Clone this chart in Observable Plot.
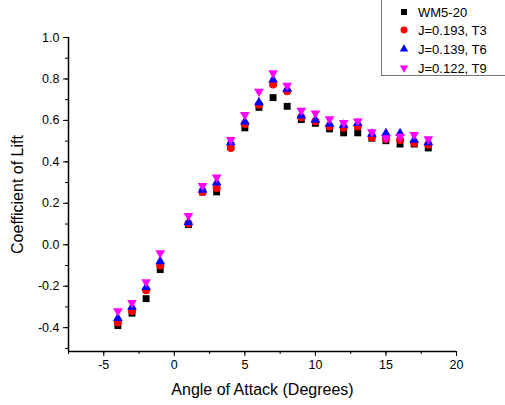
<!DOCTYPE html>
<html><head><meta charset="utf-8">
<script src="https://cdn.jsdelivr.net/npm/d3@7"></script>
<script src="https://cdn.jsdelivr.net/npm/@observablehq/plot@0.6"></script>
<style>
body{margin:0;background:#fff;font-family:"Liberation Sans",Arial,sans-serif;}
#wrap{position:relative;width:505px;height:405px;overflow:hidden;}
#legend{position:absolute;left:381px;top:-1px;width:140px;height:77px;border:1px solid #777;box-sizing:border-box;background:#fff;}
.row{position:absolute;left:0;height:18px;display:flex;align-items:center;font-size:13px;color:#000;}
.row svg{margin-left:16px;margin-right:8px;}
</style></head>
<body><div id="wrap"><div id="legend"></div></div>
<script>
const angles = [-4,-3,-2,-1,1,2,3,4,5,6,7,8,9,10,11,12,13,14,15,16,17,18];
const wm520 = [-0.39,-0.33,-0.26,-0.12,0.097,0.255,0.255,0.48,0.564,0.663,0.71,0.668,0.604,0.586,0.559,0.54,0.54,0.514,0.502,0.486,0.486,0.467];
const t3 = [-0.375,-0.32,-0.22,-0.10,0.103,0.255,0.274,0.467,0.583,0.675,0.773,0.741,0.615,0.596,0.570,0.564,0.570,0.518,0.510,0.506,0.491,0.482];
const t6 = [-0.354,-0.30,-0.205,-0.08,0.108,0.265,0.30,0.494,0.594,0.687,0.796,0.752,0.623,0.602,0.583,0.578,0.586,0.535,0.538,0.538,0.506,0.494];
const t9 = [-0.32,-0.28,-0.18,-0.04,0.14,0.285,0.325,0.506,0.627,0.739,0.828,0.768,0.647,0.634,0.607,0.588,0.596,0.544,0.515,0.522,0.531,0.51];
const seriesNames = ["WM5-20","J=0.193, T3","J=0.139, T6","J=0.122, T9"];
const seriesColors = ["#000000","#ff0000","#0000ff","#ff00ff"];
const xTicks = [-5,0,5,10,15,20];
const yTicks = [-0.4,-0.2,0.0,0.2,0.4,0.6,0.8,1.0];

const triangleDown = {
  draw(context, size) {
    const y = -Math.sqrt(size / (Math.sqrt(3) * 3));
    context.moveTo(0, -2 * y);
    context.lineTo(Math.sqrt(3) * y, y);
    context.lineTo(-Math.sqrt(3) * y, y);
    context.closePath();
  }
};
const symbols = ["square","circle","triangle",triangleDown];
const radii = [3.9,4,3.6,3.6];
const allSeries = [wm520,t3,t6,t9];

const xMin = -7.5, xMax = 20, yMin = -0.515, yMax = 1.0;
const xMinor = d3.range(-7.5, 20.01, 2.5);
const yMinor = d3.range(-5, 10.01, 1).map(d => d/10);

const marks = [];
allSeries.forEach((vals, i) => {
  marks.push(Plot.dot(angles.map((a, j) => ({x: a, y: vals[j]})), {
    x: "x", y: "y", symbol: () => symbols[i], r: radii[i], fill: seriesColors[i], stroke: "none"
  }));
});

const plot = Plot.plot({
  width: 505, height: 405,
  marginLeft: 68, marginRight: 49, marginTop: 37, marginBottom: 54,
  style: {fontFamily: '"Liberation Sans", Arial, sans-serif', fontSize: "12px", color: "#000", background: "#fff"},
  x: {domain: [xMin, xMax]},
  y: {domain: [yMin, yMax]},
  symbol: {type: "identity"},
  marks: [
    Plot.axisX({ticks: xMinor, tickSize: 3, tickFormat: () => "", label: null, strokeWidth: 1}),
    Plot.axisX({ticks: xTicks, tickSize: 5, tickPadding: 4, tickFormat: d => String(d), label: "Angle of Attack (Degrees)", labelAnchor: "center", labelArrow: "none", labelOffset: 43, fontSize: 12.5, strokeWidth: 1}),
    Plot.axisY({ticks: yMinor, tickSize: 3, tickFormat: () => "", label: null, strokeWidth: 1}),
    Plot.axisY({ticks: yTicks, tickSize: 5, tickPadding: 4, tickFormat: d => d.toFixed(1), label: "Coefficient of Lift", labelAnchor: "center", labelOffset: 57, labelArrow: "none", fontSize: 12.5, strokeWidth: 1}),
    Plot.ruleX([xMin], {stroke: "#000", strokeWidth: 1.5}),
    Plot.ruleY([yMin], {stroke: "#000", strokeWidth: 1.5}),
    ...marks
  ]
});
plot.querySelectorAll('[aria-label="x-axis label"] text, [aria-label="y-axis label"] text').forEach(t => {
  t.setAttribute("font-size", "16px");
});
document.getElementById("wrap").prepend(plot);

const legend = document.getElementById("legend");
const rowYs = [3, 21, 40, 59];
seriesNames.forEach((name, i) => {
  const row = document.createElement("div");
  row.className = "row";
  row.style.top = rowYs[i] + "px";
  const s = d3.create("svg").attr("width", 12).attr("height", 12);
  s.append("path")
    .attr("d", d3.symbol(symbols[i] === triangleDown ? triangleDown : d3["symbol" + symbols[i][0].toUpperCase() + symbols[i].slice(1)], Math.PI * radii[i] * radii[i] * 0.75)())
    .attr("transform", "translate(6,6)")
    .attr("fill", seriesColors[i]);
  row.appendChild(s.node());
  const span = document.createElement("span");
  span.textContent = name;
  row.appendChild(span);
  legend.appendChild(row);
});
</script></body></html>
